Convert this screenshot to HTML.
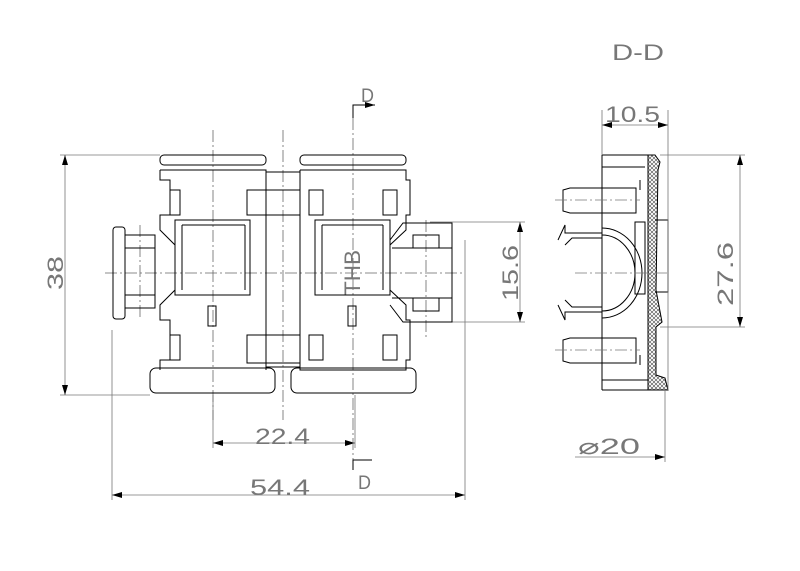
<!DOCTYPE html>
<html><head><style>body{margin:0;background:#fff}svg{display:block}text{font-family:"Liberation Sans",sans-serif;fill:#777}</style></head><body>
<svg width="800" height="571" viewBox="0 0 800 571" xmlns="http://www.w3.org/2000/svg">
<defs>
<pattern id="h" width="4" height="4" patternUnits="userSpaceOnUse"><path d="M0 0L4 4M4 0L0 4" stroke="#444" stroke-width="0.6"/></pattern>
<marker id="a" markerWidth="10" markerHeight="6" refX="10" refY="3" orient="auto-start-reverse" markerUnits="userSpaceOnUse"><path d="M0 0L10 3L0 6z" fill="#000"/></marker>
</defs>
<g fill="none" stroke="#000" stroke-width="1">
<g stroke="#777" stroke-width="0.8">
<path d="M60 155H160M60 395H150M430 222H525M430 322H525M112 330V500M465 240V500M213 395V448M355 395V448"/>
<path d="M65 155V395" marker-start="url(#a)" marker-end="url(#a)"/>
<path d="M520 222V322" marker-start="url(#a)" marker-end="url(#a)"/>
<path d="M213 443H355" marker-start="url(#a)" marker-end="url(#a)"/>
<path d="M112 495H465" marker-start="url(#a)" marker-end="url(#a)"/>
</g>
<g stroke="#666" stroke-width="0.8" stroke-dasharray="12 3 2 3">
<path d="M213 130V420M283 130V420M353 118V470M105 273H465M140 225V320M426 220V340"/>
</g>
<rect x="160" y="155" width="106" height="10" rx="4"/>
<path d="M160 170H266V370M160 170V180H170V215H160V230L175 245V290L160 305V320H170V360H160V370"/>
<path d="M170 190H180V215H170M170 335H180V360H170"/>
<rect x="113" y="227" width="12" height="92" rx="3"/>
<path d="M125 235H155V248H125M125 295H155V308H125M155 235V308"/>
<rect x="175" y="220" width="75" height="75"/>
<path d="M182 225H245M182 225V290M245 225V290"/>
<rect x="208" y="306" width="8" height="20"/>
<rect x="247" y="190" width="53" height="25"/>
<rect x="247" y="335" width="53" height="28"/>
<path d="M266 172H300M266 367H300"/>
<rect x="150" y="368" width="125" height="25" rx="6"/>
<rect x="300" y="155" width="106" height="10" rx="4"/>
<path d="M300 170H406V180H410V215H406V230L390 245V290L406 305V320H410V360H406V370H300V170"/>
<rect x="309" y="190" width="14" height="25"/><rect x="383" y="190" width="14" height="25"/>
<rect x="309" y="335" width="14" height="25"/><rect x="383" y="335" width="14" height="25"/>
<rect x="315" y="220" width="75" height="75"/>
<path d="M322 225H383M322 225V290M383 225V290"/>
<rect x="348" y="306" width="8" height="20"/>
<path d="M390 240L403 223H452V322H403L390 305"/>
<path d="M392 248H452M392 298H452"/>
<rect x="413" y="235" width="26" height="13"/><rect x="413" y="298" width="26" height="13"/>
<rect x="291" y="368" width="125" height="25" rx="6"/>
<path d="M353 118V105H375" stroke="#000" marker-end="url(#a)"/>
<path d="M353 470V460H372"/>
<path d="M602 155V390M602 155H648M602 390H660M602 167H645M602 380H648"/>
<path d="M648 155H655L660 162L658 170L656 290L662 322L656 327V375L665 378L668 390H648Z" fill="url(#h)"/>
<path d="M640 180V190M640 355V365"/>
<path d="M563 190L570 188H636V213H570L563 211Z"/>
<path d="M563 340L570 338H636V363H570L563 361Z"/>
<path d="M558 240L565 225V233H602M565 245L572 238H602"/>
<path d="M558 305L565 320V312H602M565 300L572 307H602"/>
<path d="M602 228A40 45 0 0 1 602 318M602 235A33 38 0 0 1 602 311"/>
<path d="M635 222H645V294H635Z"/>
<path d="M655 220H668V292H655"/>
<g stroke="#777" stroke-width="0.8">
<path d="M602 110V155M668 110V390M660 155H745M660 327H745M665 390V462"/>
<path d="M602 125H668" marker-start="url(#a)" marker-end="url(#a)"/>
<path d="M740 155V327" marker-start="url(#a)" marker-end="url(#a)"/>
<path d="M575 457H665" marker-end="url(#a)"/>
</g>
<path d="M575 273H668M555 200H640M555 350H640" stroke="#777" stroke-width="0.8" stroke-dasharray="12 3 2 3"/>
</g>
<text x="330" y="281" font-size="22" textLength="45" lengthAdjust="spacingAndGlyphs" transform="rotate(-90 352 273)" fill="#333">THB</text>
<text x="612" y="60" font-size="22" textLength="52" lengthAdjust="spacingAndGlyphs" font-family="Liberation Mono">D-D</text>
<text x="361" y="102" font-size="19" textLength="13" lengthAdjust="spacingAndGlyphs">D</text>
<text x="358" y="489" font-size="19" textLength="13" lengthAdjust="spacingAndGlyphs">D</text>
<text x="38" y="281" font-size="22" textLength="34" lengthAdjust="spacingAndGlyphs" transform="rotate(-90 55 273)">38</text>
<text x="482" y="281" font-size="22" textLength="56" lengthAdjust="spacingAndGlyphs" transform="rotate(-90 510 273)">15.6</text>
<text x="692" y="281" font-size="22" textLength="64" lengthAdjust="spacingAndGlyphs" transform="rotate(-90 725 273)">27.6</text>
<text x="255" y="444" font-size="22" textLength="55" lengthAdjust="spacingAndGlyphs">22.4</text>
<text x="250" y="495" font-size="22" textLength="60" lengthAdjust="spacingAndGlyphs">54.4</text>
<text x="605" y="122" font-size="22" textLength="55" lengthAdjust="spacingAndGlyphs">10.5</text>
<text x="578" y="454" font-size="22" textLength="62" lengthAdjust="spacingAndGlyphs">⌀20</text>
</svg>
</body></html>
